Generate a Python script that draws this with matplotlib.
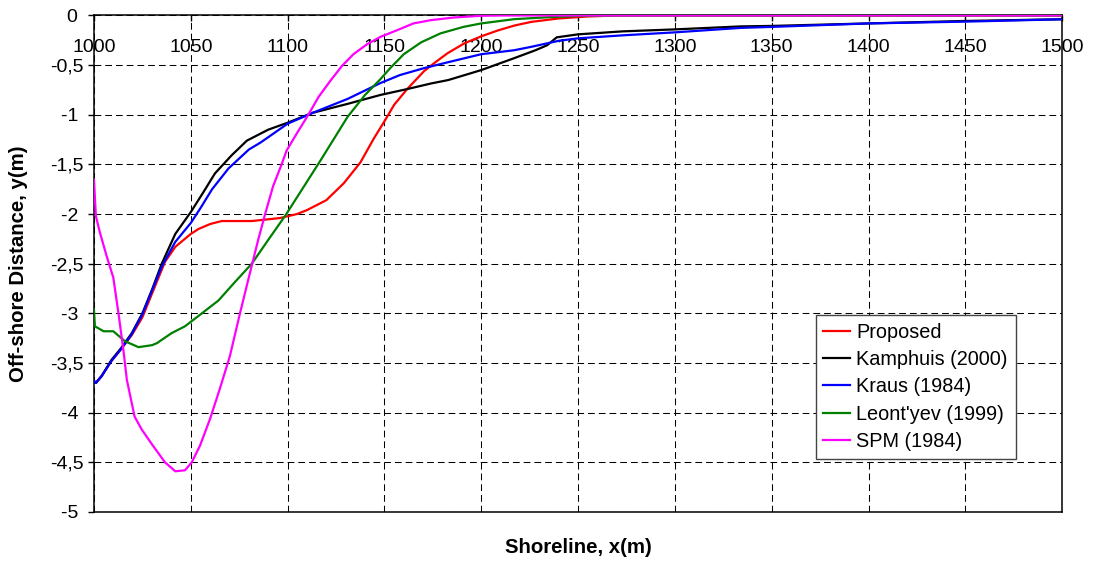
import matplotlib.pyplot as plt

plt.rcParams['font.family'] = ['Liberation Sans', 'DejaVu Sans']

# shoreline profiles, x (m) and off-shore distance y (m)
proposed_x = [1000, 1001, 1004, 1009, 1014, 1019.5, 1025, 1030, 1036.7, 1042, 1050, 1054, 1060,
              1066, 1081.5, 1096, 1104.8, 1110, 1120, 1129, 1137.6, 1144.5, 1150.5, 1155, 1161.8,
              1170.5, 1175.7, 1182.6, 1191.3, 1200, 1208.7, 1217.4, 1226, 1240, 1255, 1270, 1500]
proposed_y = [-3.68, -3.70, -3.63, -3.48, -3.36, -3.22, -3.04, -2.8, -2.48, -2.33, -2.2, -2.15, -2.1,
              -2.07, -2.07, -2.04, -2.0, -1.96, -1.86, -1.69, -1.48, -1.24, -1.05, -0.9, -0.74,
              -0.56, -0.48, -0.38, -0.28, -0.21, -0.15, -0.1, -0.064, -0.03, -0.01, 0, 0]

kamphuis_x = [1000, 1001, 1004, 1009, 1014, 1019.5, 1025, 1030, 1035, 1042, 1050, 1056.5, 1062.5,
              1071, 1079, 1090, 1100, 1113, 1131, 1148, 1162, 1174, 1183, 1200, 1217, 1228, 1234,
              1239, 1250, 1273, 1300, 1334, 1350, 1400, 1450, 1500]
kamphuis_y = [-3.68, -3.70, -3.63, -3.47, -3.35, -3.2, -3.0, -2.76, -2.5, -2.2, -1.98, -1.78, -1.59,
              -1.41, -1.26, -1.15, -1.08, -0.98, -0.89, -0.8, -0.74, -0.685, -0.65, -0.55, -0.43,
              -0.35, -0.3, -0.22, -0.19, -0.16, -0.14, -0.11, -0.105, -0.08, -0.055, -0.038]

kraus_x = [1000, 1001, 1004, 1009, 1014, 1019.5, 1025, 1030, 1035, 1042, 1050, 1055, 1061, 1069.5,
           1080, 1086, 1100, 1113, 1131, 1148, 1158, 1170.5, 1183, 1200, 1217, 1226, 1240, 1250,
           1273, 1300, 1334, 1350, 1400, 1450, 1500]
kraus_y = [-3.68, -3.70, -3.63, -3.48, -3.36, -3.21, -3.01, -2.77, -2.53, -2.28, -2.09, -1.94, -1.75,
           -1.54, -1.35, -1.28, -1.09, -0.98, -0.84, -0.68, -0.6, -0.53, -0.47, -0.39, -0.35, -0.315,
           -0.255, -0.23, -0.2, -0.17, -0.125, -0.115, -0.08, -0.062, -0.038]

leontyev_x = [1000, 1000.5, 1005, 1010, 1016, 1023, 1030, 1032.5, 1040, 1047, 1055.7, 1064.3, 1073,
              1081.5, 1090, 1099, 1117, 1131, 1140, 1148, 1153, 1160, 1169, 1179, 1191, 1200, 1217,
              1235, 1250, 1270, 1500]
leontyev_y = [-2.96, -3.13, -3.18, -3.18, -3.28, -3.34, -3.32, -3.3, -3.2, -3.13, -3.0, -2.87, -2.68,
              -2.5, -2.26, -2.01, -1.46, -1.02, -0.8, -0.64, -0.53, -0.39, -0.27, -0.18, -0.114,
              -0.08, -0.037, -0.017, -0.005, 0, 0]

spm_x = [1000, 1001, 1003, 1006.5, 1010, 1012.6, 1015.2, 1017, 1021, 1024.7, 1030, 1036.7, 1042,
         1047, 1050.5, 1054.8, 1060, 1065, 1070.2, 1075.4, 1079.7, 1084.8, 1088.4, 1092.5, 1096.9,
         1099.5, 1105, 1110.7, 1116, 1122, 1128, 1134, 1141, 1148, 1156.6, 1165, 1174, 1186, 1200,
         1210, 1500]
spm_y = [-1.65, -2.02, -2.18, -2.42, -2.64, -2.99, -3.37, -3.67, -4.04, -4.17, -4.32, -4.5, -4.59,
         -4.58, -4.5, -4.33, -4.06, -3.76, -3.43, -3.0, -2.66, -2.26, -2.0, -1.72, -1.5,
         -1.36, -1.18, -1.0, -0.82, -0.66, -0.51, -0.39, -0.29, -0.215, -0.148, -0.08, -0.047,
         -0.02, -0.003, 0, 0]

x_ticks = list(range(1000, 1501, 50))
y_ticks = [0, -0.5, -1, -1.5, -2, -2.5, -3, -3.5, -4, -4.5, -5]
# comma decimal labels; whole numbers keep a blank where the comma would go
y_labels = ['0 ', '-0,5', '-1 ', '-1,5', '-2 ', '-2,5', '-3 ', '-3,5', '-4 ', '-4,5', '-5 ']

fig = plt.figure(figsize=(10.95, 5.63), dpi=100)
ax = fig.add_axes([0.0858, 0.0906, 0.8842, 0.8819])

series = [
    (proposed_x, proposed_y, '#ff0000', 'Proposed'),
    (kamphuis_x, kamphuis_y, '#000000', 'Kamphuis (2000)'),
    (kraus_x, kraus_y, '#0000ff', 'Kraus (1984)'),
    (leontyev_x, leontyev_y, '#008000', "Leont'yev (1999)"),
    (spm_x, spm_y, '#ff00ff', 'SPM (1984)'),
]
for xs, ys, color, label in series:
    ax.plot(xs, ys, color=color, linewidth=1.6, label=label, zorder=3)

ax.set_xlim(1000, 1500)
ax.set_ylim(-5, 0)
ax.set_xticks(x_ticks)
ax.set_yticks(y_ticks)
ax.set_yticklabels(y_labels)

ax.grid(True, color='black', linestyle=(0, (6.5, 3.8)), linewidth=0.75)
ax.set_axisbelow(True)

# x axis sits on y = 0 with its labels hanging below the line
ax.tick_params(axis='x', top=True, bottom=False, labeltop=True, labelbottom=False,
               direction='in', length=4.5, width=1, pad=-29, labelsize=14)
ax.tick_params(axis='y', direction='out', length=4.5, width=1, pad=3, labelsize=14)

for side in ['left', 'right', 'top', 'bottom']:
    ax.spines[side].set_color('black')
    ax.spines[side].set_linewidth(1.1)

ax.set_xlabel('Shoreline, x(m)', fontsize=14.7, fontweight='bold')
ax.xaxis.set_label_coords(0.5, -0.052)
ax.set_ylabel('Off-shore Distance, y(m)', fontsize=14.7, fontweight='bold')
ax.yaxis.set_label_coords(-0.068, 0.5)

leg = ax.legend(loc='lower right', bbox_to_anchor=(0.952, 0.107), fontsize=14.3,
                frameon=True, fancybox=False, framealpha=1, edgecolor='#444444',
                handlelength=1.35, handletextpad=0.3, labelspacing=0.42,
                borderpad=0.4, borderaxespad=0)
leg.get_frame().set_linewidth(1.0)

fig.savefig('out.png', dpi=100)
